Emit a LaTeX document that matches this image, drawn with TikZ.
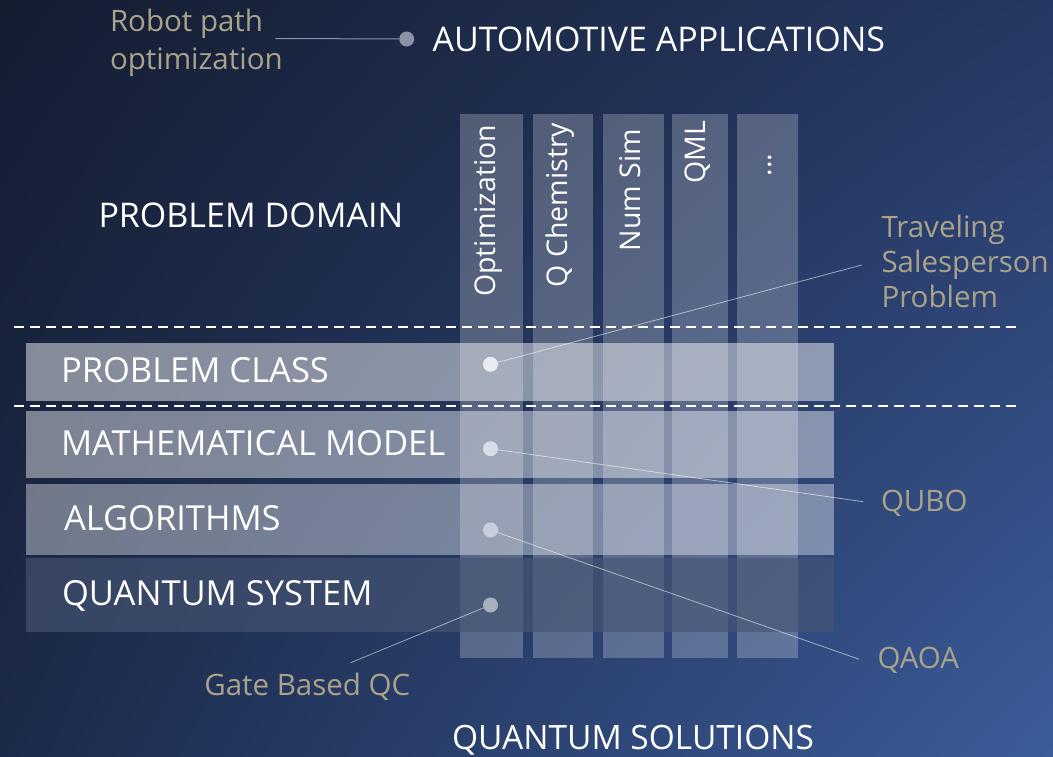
\documentclass[tikz,border=0pt]{standalone}
\usepackage{fontspec}
\usetikzlibrary{shadings}
\setmainfont{Open Sans}
\definecolor{bgTL}{RGB}{20,28,48}
\definecolor{bgTR}{RGB}{38,56,98}
\definecolor{bgBL}{RGB}{28,42,74}
\definecolor{bgBR}{RGB}{60,92,155}
\definecolor{tanc}{RGB}{170,162,139}
\definecolor{deepband}{RGB}{71,85,115}
\definecolor{pinA}{RGB}{138,146,166}
\definecolor{pinI}{RGB}{233,235,240}
\definecolor{pinII}{RGB}{217,221,229}
\definecolor{pinIII}{RGB}{200,206,219}
\definecolor{pinIV}{RGB}{168,175,191}
\begin{document}
\begin{tikzpicture}[x=1pt,y=-1pt,
  every node/.style={inner sep=0pt, outer sep=0pt},
  headtext/.style={text=white, font=\fontsize{34}{40}\selectfont, anchor=base west},
  rowtext/.style={text=white, font=\fontsize{34.5}{40}\selectfont, anchor=base west},
  coltext/.style={text=white, font=\fontsize{28.5}{34}\selectfont, rotate=90, anchor=base east},
  note/.style={text=tanc, font=\fontsize{29.5}{35}\selectfont},
  lane/.style={fill=white, fill opacity=0.23},
  sep/.style={draw=white, line width=2pt, dash pattern=on 9.5pt off 6.5pt},
  pin/.style={circle, minimum size=15pt, draw=none},
  lead/.style={draw=white, draw opacity=0.55, line width=0.8pt},
]
\useasboundingbox (0,0) rectangle (1053,756);
% background
\shade[upper left=bgTL, upper right=bgTR, lower left=bgBL, lower right=bgBR]
  (0,0) rectangle (1053,756);

% problem-domain columns
\foreach \l/\r in {460/522.7, 532.7/592.7, 602.7/664, 672/727.7, 736.7/797.7}
  \fill[lane] (\l,114) rectangle (\r,658);

% solution layers
\fill[white, fill opacity=0.47] (26,343) rectangle (833.5,400.7);
\fill[white, fill opacity=0.43] (26,411) rectangle (833.5,477.7);
\fill[white, fill opacity=0.38] (26,484) rectangle (833.5,555);
\fill[deepband, fill opacity=0.65] (26,557.7) rectangle (833.5,631.7);

% separators
\draw[sep] (14,327) -- (1017,327);
\draw[sep] (14,406) -- (1017,406);

% headings
\node[headtext] (auto) at (432.5,51) {AUTOMOTIVE APPLICATIONS};
\node[headtext] (domain) at (98.5,227.3) {PROBLEM DOMAIN};
\node[headtext, font=\fontsize{33.5}{40}\selectfont] (solutions) at (452,749.5) {QUANTUM SOLUTIONS};

% layer labels
\node[rowtext] (pclass) at (61,382) {PROBLEM CLASS};
\node[rowtext] (mmodel) at (61,455) {MATHEMATICAL MODEL};
\node[rowtext] (algo) at (64,530) {ALGORITHMS};
\node[rowtext] (qsys) at (62,605) {QUANTUM SYSTEM};

% column labels
\node[coltext] (c1) at (495.5,125) {Optimization};
\node[coltext] (c2) at (567,122.7) {Q Chemistry};
\node[coltext] (c3) at (640.3,129) {Num Sim};
\node[coltext] (c4) at (705.3,120.7) {QML};
\node[coltext, anchor=base] (c5) at (771,165) {...};

% markers
\node[pin, fill=pinA] (pA) at (406.7,39) {};
\node[pin, fill=pinI] (p1) at (490.5,364.3) {};
\node[pin, fill=pinII] (p2) at (490.5,448.7) {};
\node[pin, fill=pinIII] (p3) at (490.5,530) {};
\node[pin, fill=pinIV] (p4) at (490.5,605) {};

% annotations
\node[note, align=left, anchor=north west, font=\fontsize{29.5}{37.5}\selectfont] (robot) at (110,9.3) {Robot path\\optimization};
\node[note, align=left, anchor=north west] (tsp) at (881.5,215.3) {Traveling\\Salesperson\\Problem};
\node[note, anchor=base west] (qubo) at (881,511.7) {QUBO};
\node[note, anchor=base west] (qaoa) at (877.5,668.3) {QAOA};
\node[note, anchor=base west] (gate) at (204.3,695) {Gate Based QC};

% leader ends
\coordinate (eR) at (275.3,38.5);
\coordinate (eT) at (861.7,265);
\coordinate (eQ) at (863.3,501.7);
\coordinate (eA) at (859.3,659.3);
\coordinate (eG) at (350.7,662.7);

% leaders
\draw[line width=1pt, draw=pinA] (eR) -- (pA);
\draw[lead] (p1) -- (eT);
\draw[lead] (p2) -- (eQ);
\draw[lead] (p3) -- (eA);
\draw[lead] (p4) -- (eG);
\end{tikzpicture}
\end{document}
